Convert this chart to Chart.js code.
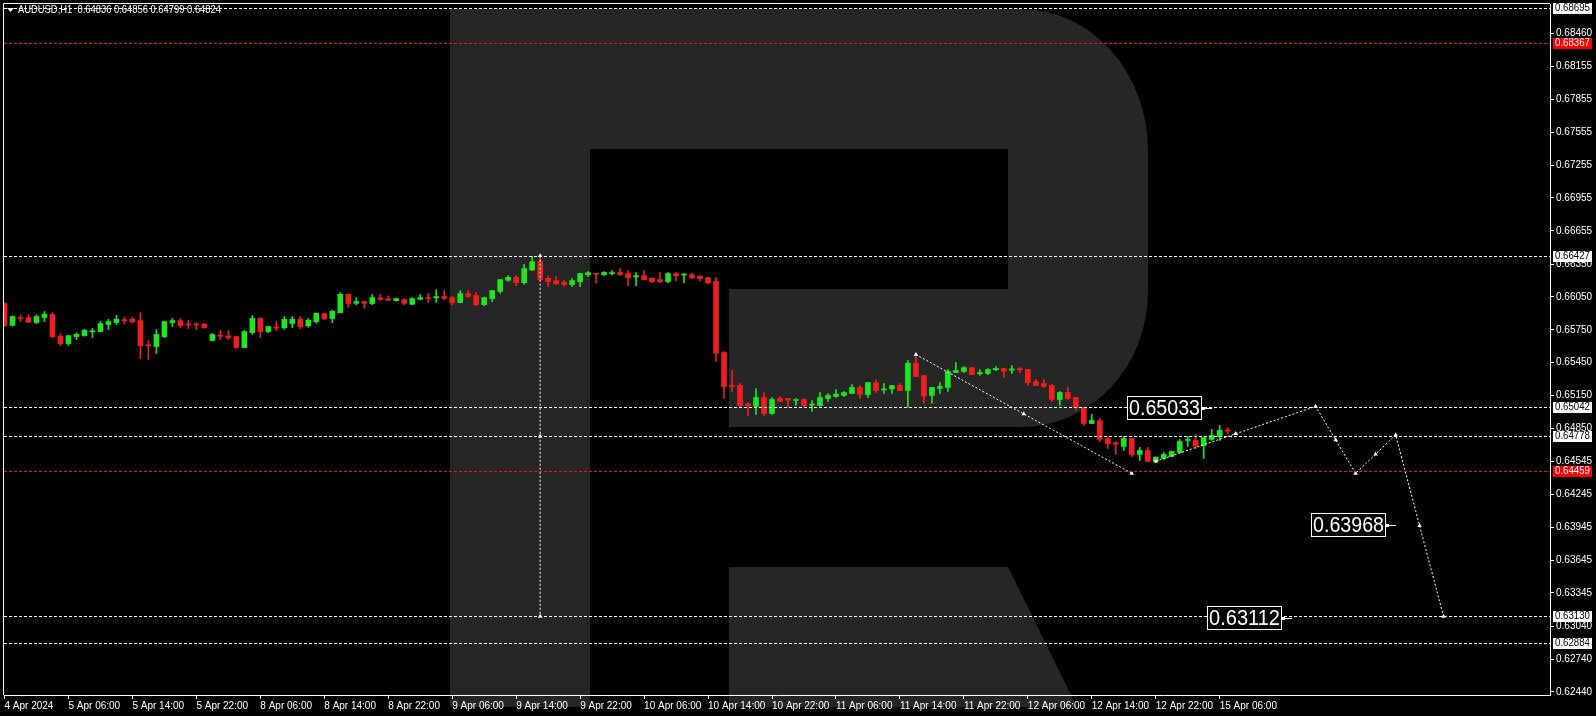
<!DOCTYPE html>
<html>
<head>
<meta charset="utf-8">
<title>AUDUSD H1</title>
<script src="https://cdn.jsdelivr.net/npm/chart.js@4.4.1/dist/chart.umd.min.js"></script>
<style>
  html, body { margin: 0; padding: 0; background: #000; overflow: hidden; }
  canvas { display: block; }
</style>
</head>
<body>
<canvas id="chart" width="1596" height="716"></canvas>
<script>
// ------------------------------------------------------------------
// Data (AUDUSD, H1, 4 Apr 22:00 -> 15 Apr 07:00)
// ------------------------------------------------------------------
const SYMBOL = 'AUDUSD,H1';

const OPEN = [
  0.65990, 0.65791, 0.65857, 0.65862, 0.65816, 0.65862, 0.65889, 0.65691, 0.65624, 0.65688,
  0.65697, 0.65732, 0.65734, 0.65798, 0.65816, 0.65839, 0.65846, 0.65834, 0.65613, 0.65597,
  0.65688, 0.65816, 0.65834, 0.65801, 0.65800, 0.65801, 0.65652, 0.65700, 0.65695, 0.65688,
  0.65588, 0.65725, 0.65853, 0.65734, 0.65777, 0.65768, 0.65807, 0.65846, 0.65786, 0.65825,
  0.65898, 0.65853, 0.65907, 0.66075, 0.65992, 0.66008, 0.65990, 0.66042, 0.66033, 0.66017,
  0.66026, 0.65983, 0.66029, 0.66044, 0.66042, 0.66054, 0.66044, 0.65999, 0.66081, 0.66063,
  0.65980, 0.66035, 0.66102, 0.66202, 0.66230, 0.66181, 0.66297, 0.66373, 0.66221, 0.66200,
  0.66184, 0.66163, 0.66191, 0.66254, 0.66264, 0.66254, 0.66264, 0.66273, 0.66264, 0.66233,
  0.66245, 0.66221, 0.66209, 0.66191, 0.66264, 0.66251, 0.66254, 0.66239, 0.66227, 0.66191,
  0.65542, 0.65241, 0.65241, 0.65073, 0.65049, 0.65131, 0.64985, 0.65122, 0.65122, 0.65104,
  0.65113, 0.65061, 0.65058, 0.65122, 0.65141, 0.65150, 0.65168, 0.65223, 0.65159, 0.65268,
  0.65201, 0.65210, 0.65241, 0.65195, 0.65445, 0.65332, 0.65150, 0.65214, 0.65223, 0.65360,
  0.65369, 0.65405, 0.65348, 0.65351, 0.65384, 0.65396, 0.65381, 0.65396, 0.65387, 0.65277,
  0.65259, 0.65241, 0.65113, 0.65177, 0.65131, 0.65040, 0.64894, 0.64921, 0.64757, 0.64718,
  0.64684, 0.64757, 0.64611, 0.64647, 0.64547, 0.64574, 0.64592, 0.64629, 0.64739, 0.64739,
  0.64693, 0.64748, 0.64775, 0.64836
];
const HIGH = [
  0.65999, 0.65875, 0.65886, 0.65889, 0.65886, 0.65917, 0.65907, 0.65713, 0.65699, 0.65722,
  0.65755, 0.65764, 0.65828, 0.65846, 0.65883, 0.65865, 0.65865, 0.65907, 0.65652, 0.65752,
  0.65827, 0.65853, 0.65853, 0.65834, 0.65816, 0.65810, 0.65716, 0.65743, 0.65743, 0.65690,
  0.65743, 0.65880, 0.65862, 0.65782, 0.65825, 0.65871, 0.65871, 0.65871, 0.65853, 0.65903,
  0.65900, 0.65928, 0.66090, 0.66077, 0.66044, 0.66010, 0.66072, 0.66072, 0.66060, 0.66037,
  0.66035, 0.66044, 0.66072, 0.66081, 0.66117, 0.66108, 0.66054, 0.66108, 0.66108, 0.66090,
  0.66046, 0.66110, 0.66211, 0.66246, 0.66246, 0.66346, 0.66421, 0.66427, 0.66243, 0.66236,
  0.66200, 0.66218, 0.66266, 0.66282, 0.66266, 0.66282, 0.66291, 0.66309, 0.66291, 0.66273,
  0.66291, 0.66227, 0.66273, 0.66273, 0.66273, 0.66264, 0.66264, 0.66245, 0.66229, 0.66227,
  0.65551, 0.65378, 0.65259, 0.65082, 0.65213, 0.65177, 0.65131, 0.65141, 0.65124, 0.65122,
  0.65122, 0.65104, 0.65177, 0.65168, 0.65204, 0.65186, 0.65250, 0.65241, 0.65270, 0.65296,
  0.65259, 0.65243, 0.65259, 0.65469, 0.65524, 0.65334, 0.65225, 0.65268, 0.65387, 0.65451,
  0.65414, 0.65407, 0.65387, 0.65396, 0.65414, 0.65398, 0.65423, 0.65405, 0.65389, 0.65296,
  0.65296, 0.65250, 0.65186, 0.65223, 0.65133, 0.65042, 0.64976, 0.64939, 0.64775, 0.64729,
  0.64775, 0.64759, 0.64675, 0.64675, 0.64588, 0.64629, 0.64640, 0.64748, 0.64775, 0.64794,
  0.64768, 0.64839, 0.64876, 0.64856
];
const LOW = [
  0.65780, 0.65786, 0.65825, 0.65816, 0.65807, 0.65825, 0.65679, 0.65606, 0.65606, 0.65661,
  0.65691, 0.65679, 0.65731, 0.65752, 0.65798, 0.65804, 0.65813, 0.65487, 0.65478, 0.65533,
  0.65679, 0.65780, 0.65770, 0.65761, 0.65752, 0.65764, 0.65650, 0.65661, 0.65661, 0.65579,
  0.65586, 0.65707, 0.65679, 0.65725, 0.65743, 0.65755, 0.65770, 0.65761, 0.65773, 0.65810,
  0.65843, 0.65816, 0.65905, 0.65956, 0.65978, 0.65947, 0.65980, 0.66017, 0.66017, 0.66011,
  0.65980, 0.65981, 0.66026, 0.66001, 0.66001, 0.66026, 0.65978, 0.65997, 0.66044, 0.65971,
  0.65971, 0.66008, 0.66084, 0.66193, 0.66154, 0.66166, 0.66291, 0.66200, 0.66145, 0.66163,
  0.66148, 0.66145, 0.66145, 0.66236, 0.66181, 0.66248, 0.66254, 0.66248, 0.66154, 0.66154,
  0.66207, 0.66181, 0.66181, 0.66181, 0.66200, 0.66181, 0.66218, 0.66200, 0.66172, 0.65460,
  0.65122, 0.65186, 0.65040, 0.64967, 0.64976, 0.64967, 0.64976, 0.65093, 0.65040, 0.65058,
  0.65049, 0.65003, 0.65049, 0.65095, 0.65131, 0.65141, 0.65166, 0.65122, 0.65131, 0.65177,
  0.65168, 0.65168, 0.65193, 0.65043, 0.65321, 0.65079, 0.65079, 0.65168, 0.65186, 0.65358,
  0.65360, 0.65339, 0.65332, 0.65341, 0.65378, 0.65314, 0.65351, 0.65360, 0.65241, 0.65239,
  0.65223, 0.65095, 0.65058, 0.65113, 0.65012, 0.64876, 0.64892, 0.64729, 0.64665, 0.64611,
  0.64647, 0.64592, 0.64556, 0.64545, 0.64538, 0.64565, 0.64590, 0.64627, 0.64684, 0.64665,
  0.64574, 0.64739, 0.64739, 0.64799
];
const CLOSE = [
  0.65789, 0.65871, 0.65853, 0.65819, 0.65871, 0.65892, 0.65688, 0.65624, 0.65697, 0.65709,
  0.65746, 0.65739, 0.65807, 0.65825, 0.65846, 0.65834, 0.65822, 0.65606, 0.65603, 0.65707,
  0.65825, 0.65834, 0.65789, 0.65795, 0.65795, 0.65770, 0.65707, 0.65691, 0.65676, 0.65588,
  0.65734, 0.65853, 0.65734, 0.65780, 0.65764, 0.65846, 0.65846, 0.65780, 0.65837, 0.65901,
  0.65853, 0.65919, 0.66075, 0.65990, 0.66008, 0.65992, 0.66044, 0.66029, 0.66020, 0.66035,
  0.65992, 0.66035, 0.66044, 0.66035, 0.66054, 0.66038, 0.65999, 0.66081, 0.66054, 0.65980,
  0.66044, 0.66108, 0.66209, 0.66230, 0.66181, 0.66309, 0.66373, 0.66209, 0.66191, 0.66170,
  0.66163, 0.66200, 0.66264, 0.66273, 0.66257, 0.66275, 0.66273, 0.66254, 0.66227, 0.66245,
  0.66209, 0.66191, 0.66191, 0.66264, 0.66245, 0.66261, 0.66227, 0.66218, 0.66181, 0.65536,
  0.65232, 0.65232, 0.65058, 0.65055, 0.65131, 0.64985, 0.65113, 0.65095, 0.65107, 0.65113,
  0.65058, 0.65070, 0.65131, 0.65150, 0.65162, 0.65177, 0.65223, 0.65159, 0.65268, 0.65195,
  0.65210, 0.65241, 0.65195, 0.65445, 0.65323, 0.65144, 0.65223, 0.65232, 0.65369, 0.65378,
  0.65405, 0.65341, 0.65360, 0.65387, 0.65396, 0.65371, 0.65393, 0.65384, 0.65268, 0.65241,
  0.65232, 0.65113, 0.65177, 0.65122, 0.65040, 0.64894, 0.64921, 0.64748, 0.64711, 0.64705,
  0.64757, 0.64611, 0.64647, 0.64547, 0.64586, 0.64611, 0.64638, 0.64729, 0.64748, 0.64687,
  0.64766, 0.64785, 0.64830, 0.64824
];

// time axis: one label every 8 bars, starting at the first bar
const TIME_LABELS = [
  '4 Apr 2024', '5 Apr 06:00', '5 Apr 14:00', '5 Apr 22:00', '8 Apr 06:00', '8 Apr 14:00',
  '8 Apr 22:00', '9 Apr 06:00', '9 Apr 14:00', '9 Apr 22:00', '10 Apr 06:00', '10 Apr 14:00',
  '10 Apr 22:00', '11 Apr 06:00', '11 Apr 14:00', '11 Apr 22:00', '12 Apr 06:00', '12 Apr 14:00',
  '12 Apr 22:00', '15 Apr 06:00'
];
const BARS_PER_LABEL = 8;

const PRICE_TICKS = [
  0.68460, 0.68155, 0.67855, 0.67555, 0.67255, 0.66955, 0.66655, 0.66350, 0.66050, 0.65750,
  0.65450, 0.65150, 0.64850, 0.64545, 0.64245, 0.63945, 0.63645, 0.63345, 0.63040, 0.62740,
  0.62440
];

// horizontal levels
const WHITE_LEVELS = [0.68695, 0.66427, 0.65042, 0.64778, 0.63130, 0.62884];
const RED_LEVELS   = [0.68367, 0.64459];

// trend lines (bar index, price)
const RANGE_X = [67, 67, 67];
const RANGE_Y = [0.66427, 0.64778, 0.63130];
const DOWN_X  = [114, 127.5, 141];
const DOWN_Y  = [0.65524, 0.64981, 0.64438];
const UP_X    = [144, 154];
const UP_Y    = [0.64548, 0.64800];
const FORECAST_X = [154, 164, 166.5, 169, 171.5, 174, 177, 180];
const FORECAST_Y = [0.64800, 0.65050, 0.64744, 0.64438, 0.64614, 0.64790, 0.63960, 0.63130];

// price tags (bar index of the pointer tip, price)
const TAG_X = [151, 174, 161];
const TAG_Y = [0.65033, 0.63968, 0.63112];

// ------------------------------------------------------------------
// Styles
// ------------------------------------------------------------------
const BULL = '#1ee61e';
const BEAR = '#f21d1d';
const WATERMARK = '#262626';
const FONT = "'Liberation Sans', Arial, sans-serif";

const bars = OPEN.map((_, i) => i);
const candleColor = bars.map(i => CLOSE[i] >= OPEN[i] ? BULL : BEAR);
const xy = (xs, ys) => xs.map((x, k) => ({ x, y: ys[k] }));

function trendLine(xs, ys) {
  return {
    type: 'line',
    data: xy(xs, ys),
    borderColor: '#ffffff',
    borderWidth: 1,
    borderDash: [2, 2],
    pointStyle: 'triangle',
    pointRadius: 2.6,
    pointBackgroundColor: '#ffffff',
    pointBorderWidth: 0,
    fill: false,
    tension: 0,
    order: 1,
  };
}

// ------------------------------------------------------------------
// Terminal decorations: background, watermark, levels, tags, title
// ------------------------------------------------------------------
function drawWatermark(ctx) {
  ctx.fillStyle = WATERMARK;
  // stem
  ctx.fillRect(450, 9, 140, 698);
  // bowl
  ctx.beginPath();
  ctx.moveTo(450, 9);
  ctx.lineTo(1021, 9);
  ctx.ellipse(1021, 150, 127, 141, 0, -Math.PI / 2, 0);
  ctx.lineTo(1148, 292);
  ctx.ellipse(1021, 292, 127, 135, 0, 0, Math.PI / 2);
  ctx.lineTo(450, 427);
  ctx.closePath();
  ctx.fill();
  // leg
  ctx.beginPath();
  ctx.moveTo(729, 567);
  ctx.lineTo(1008, 567);
  ctx.lineTo(1077, 707);
  ctx.lineTo(729, 707);
  ctx.closePath();
  ctx.fill();
  // counters
  ctx.fillStyle = '#000';
  ctx.fillRect(590, 149, 418, 140);
  ctx.fillRect(590, 289, 139, 138);
}

const terminal = {
  id: 'terminal',
  beforeDraw(chart) {
    const ctx = chart.ctx;
    ctx.save();
    ctx.fillStyle = '#000';
    ctx.fillRect(0, 0, chart.width, chart.height);
    drawWatermark(ctx);
    ctx.restore();
  },
  afterDatasetsDraw(chart) {
    const { ctx, chartArea: a, scales: { y } } = chart;
    ctx.save();
    ctx.lineWidth = 1;
    ctx.setLineDash([3, 2]);
    const line = (v, color) => {
      const py = Math.round(y.getPixelForValue(v)) + 0.5;
      ctx.strokeStyle = color;
      ctx.beginPath();
      ctx.moveTo(a.left, py);
      ctx.lineTo(a.right, py);
      ctx.stroke();
    };
    WHITE_LEVELS.forEach(v => line(v, '#ffffff'));
    RED_LEVELS.forEach(v => line(v, '#ff1010'));
    ctx.restore();
  },
  afterDraw(chart) {
    const { ctx, chartArea: a, scales: { x, y } } = chart;
    ctx.save();

    // frame (top + left)
    ctx.strokeStyle = '#ffffff';
    ctx.lineWidth = 1;
    ctx.beginPath();
    ctx.moveTo(a.left - 0.5, a.bottom);
    ctx.lineTo(a.left - 0.5, a.top - 0.5);
    ctx.lineTo(a.right, a.top - 0.5);
    ctx.stroke();

    // level boxes on the price axis
    ctx.font = '10px ' + FONT;
    ctx.textBaseline = 'middle';
    ctx.textAlign = 'left';
    const box = (v, bg, fg) => {
      const py = Math.round(y.getPixelForValue(v));
      ctx.fillStyle = bg;
      ctx.fillRect(a.right + 3, py - 5, 39, 11);
      ctx.fillStyle = fg;
      ctx.fillText(v.toFixed(5), a.right + 5, py + 0.5, 35);
    };
    WHITE_LEVELS.forEach(v => box(v, '#ffffff', '#000000'));
    RED_LEVELS.forEach(v => box(v, '#ff0000', '#ffffff'));

    // price tags in the chart
    ctx.save();
    ctx.beginPath();
    ctx.rect(a.left, a.top, a.right - a.left, a.bottom - a.top);
    ctx.clip();
    TAG_X.forEach((bx, k) => {
      const tipX = Math.round(x.getPixelForValue(bx));
      const py = Math.round(y.getPixelForValue(TAG_Y[k]));
      const w = 75, h = 24;
      const bxL = tipX - 10 - w;
      ctx.fillStyle = '#000';
      ctx.fillRect(bxL, py - h / 2, w, h);
      ctx.strokeStyle = '#fff';
      ctx.setLineDash([]);
      ctx.strokeRect(bxL + 0.5, py - h / 2 + 0.5, w - 1, h - 1);
      ctx.fillStyle = '#fff';
      ctx.font = '22px ' + FONT;
      ctx.textBaseline = 'middle';
      ctx.fillText(TAG_Y[k].toFixed(5), bxL + 2, py + 1, w - 4);
      ctx.fillRect(bxL + w, py - 1, 3, 3);
      ctx.fillRect(bxL + w + 3, py, 7, 1);
    });
    ctx.restore();

    // title
    ctx.fillStyle = '#ffffff';
    ctx.beginPath();
    ctx.moveTo(7, 8);
    ctx.lineTo(14, 8);
    ctx.lineTo(10.5, 12);
    ctx.closePath();
    ctx.fill();
    const last = OPEN.length - 1;
    const title = SYMBOL + '  ' + [OPEN[last], HIGH[last], LOW[last], CLOSE[last]].map(v => v.toFixed(5)).join(' ');
    ctx.font = '10.5px ' + FONT;
    ctx.textBaseline = 'middle';
    ctx.fillText(title, 18, 10.5, 203);
    ctx.restore();
  }
};

// ------------------------------------------------------------------
// Chart
// ------------------------------------------------------------------
new Chart(document.getElementById('chart'), {
  type: 'bar',
  data: {
    datasets: [
      {
        label: 'wicks',
        data: bars.map(i => ({ x: i, y: [LOW[i], HIGH[i]] })),
        backgroundColor: candleColor,
        barThickness: 1,
        grouped: false,
        borderWidth: 0,
        order: 5,
      },
      {
        label: 'bodies',
        data: bars.map(i => ({ x: i, y: [OPEN[i], CLOSE[i]] })),
        backgroundColor: candleColor,
        barThickness: 5,
        minBarLength: 1,
        grouped: false,
        borderWidth: 0,
        order: 4,
      },
      trendLine(RANGE_X, RANGE_Y),
      trendLine(DOWN_X, DOWN_Y),
      trendLine(UP_X, UP_Y),
      trendLine(FORECAST_X, FORECAST_Y),
    ],
  },
  options: {
    responsive: false,
    maintainAspectRatio: false,
    devicePixelRatio: 1,
    animation: false,
    events: [],
    layout: { padding: { top: 3, left: 3, right: 0, bottom: 0 } },
    plugins: { legend: { display: false }, tooltip: { enabled: false } },
    scales: {
      x: {
        type: 'linear',
        min: -0.0625,
        max: 193.3125,
        offset: false,
        afterBuildTicks: s => { s.ticks = TIME_LABELS.map((_, k) => ({ value: k * BARS_PER_LABEL })); },
        afterFit: s => { s.height = 21; s.paddingLeft = 0; s.paddingRight = 0; },
        ticks: {
          callback: v => TIME_LABELS[Math.round(v / BARS_PER_LABEL)],
          color: '#ffffff',
          font: { family: FONT, size: 10 },
          align: 'start',
          maxRotation: 0,
          autoSkip: false,
          padding: 1,
        },
        grid: { offset: false, drawOnChartArea: false, drawTicks: true, tickLength: 4, color: '#ffffff' },
        border: { display: true, color: '#ffffff' },
      },
      y: {
        type: 'linear',
        position: 'right',
        min: 0.62412,
        max: 0.68728,
        afterBuildTicks: s => { s.ticks = PRICE_TICKS.map(v => ({ value: v })); },
        afterFit: s => { s.width = 46; s.paddingTop = 0; s.paddingBottom = 0; },
        ticks: {
          callback: v => v.toFixed(5),
          color: '#ffffff',
          font: { family: FONT, size: 10 },
          padding: 2,
        },
        grid: { drawOnChartArea: false, drawTicks: true, tickLength: 4, color: '#ffffff' },
        border: { display: true, color: '#ffffff' },
      },
    },
  },
  plugins: [terminal],
});
</script>
</body>
</html>
